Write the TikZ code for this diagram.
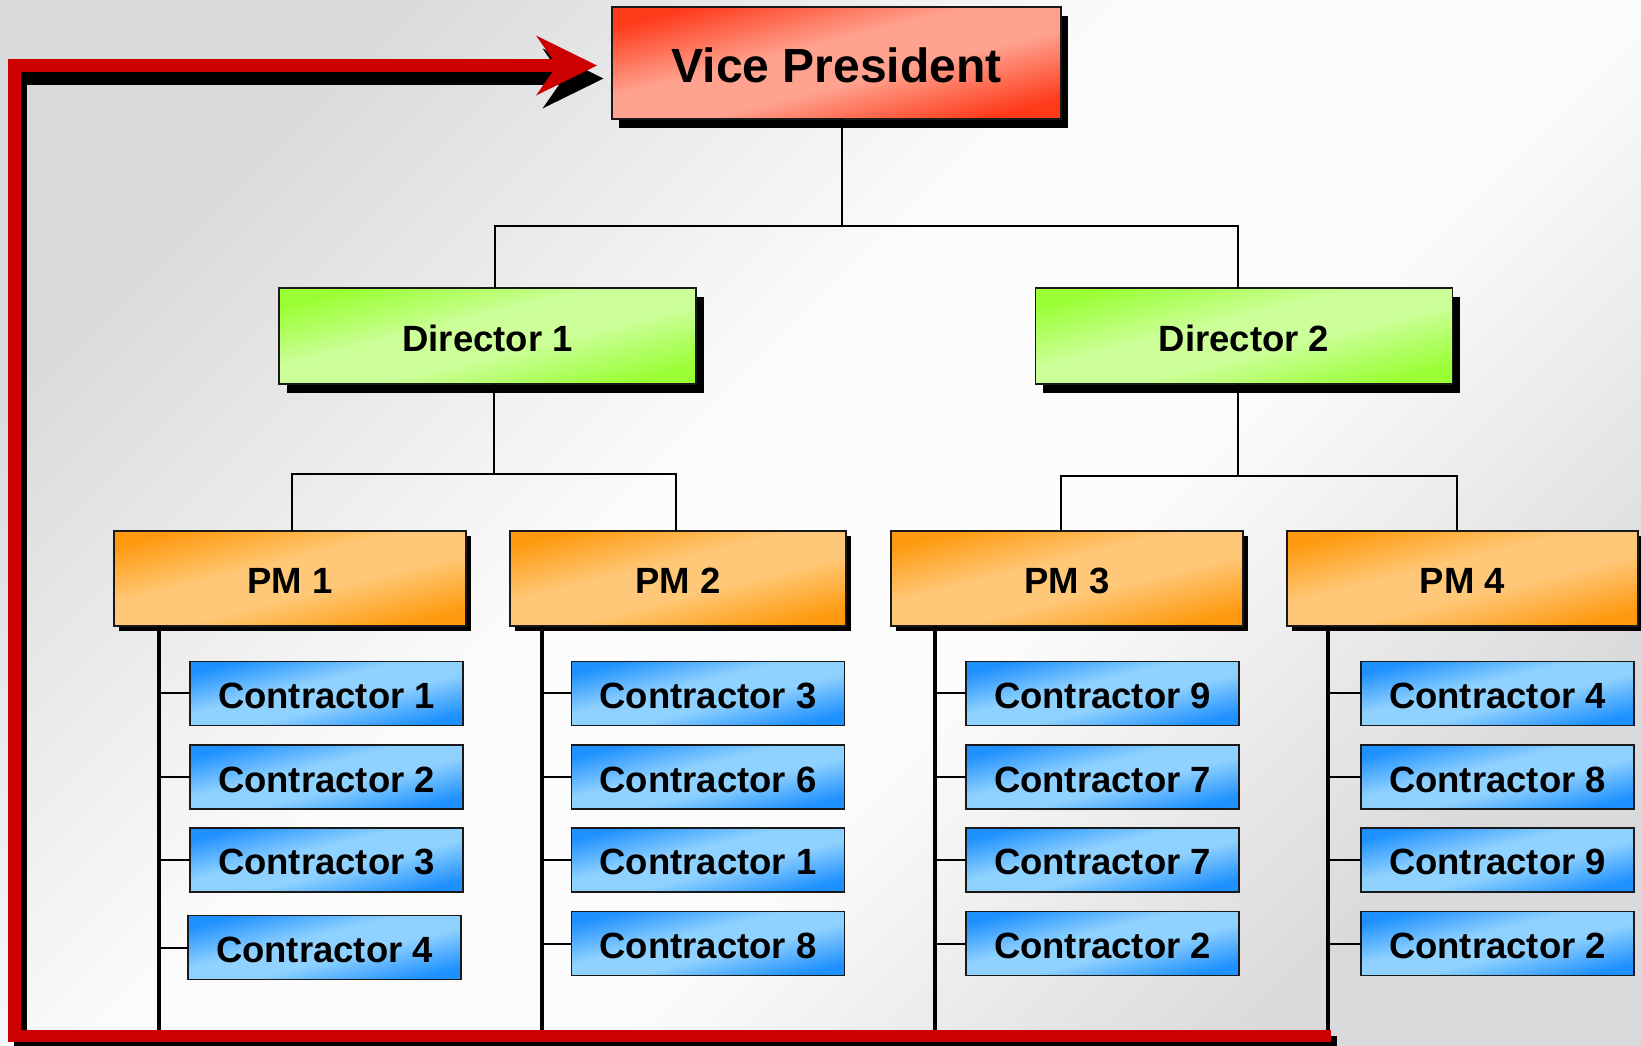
\documentclass[tikz,border=0pt]{standalone}
\usepackage{fontspec}
\setmainfont{Liberation Sans}
\usetikzlibrary{shadows,arrows.meta,calc}

% box colours: strong corner tone and light middle tone
\definecolor{vpA}{HTML}{FF3A1A}
\definecolor{vpB}{HTML}{FFA390}
\definecolor{dirA}{HTML}{99FF33}
\definecolor{dirB}{HTML}{CCFF99}
\definecolor{pmA}{HTML}{FF9A10}
\definecolor{pmB}{HTML}{FFC878}
\definecolor{conA}{HTML}{1E90FF}
\definecolor{conB}{HTML}{90D2FF}
\definecolor{bgA}{HTML}{DADADC}
\definecolor{bgB}{HTML}{FCFCFC}
\definecolor{loopred}{HTML}{CC0000}

% diagonal corner-to-corner shadings
\pgfdeclarehorizontalshading{vpshade}{100bp}{color(0bp)=(vpA); color(25bp)=(vpA); color(44bp)=(vpB); color(56bp)=(vpB); color(75bp)=(vpA); color(100bp)=(vpA)}
\pgfdeclarehorizontalshading{dirshade}{100bp}{color(0bp)=(dirA); color(25bp)=(dirA); color(44bp)=(dirB); color(56bp)=(dirB); color(75bp)=(dirA); color(100bp)=(dirA)}
\pgfdeclarehorizontalshading{pmshade}{100bp}{color(0bp)=(pmA); color(25bp)=(pmA); color(44bp)=(pmB); color(56bp)=(pmB); color(75bp)=(pmA); color(100bp)=(pmA)}
\pgfdeclarehorizontalshading{conshade}{100bp}{color(0bp)=(conA); color(25bp)=(conA); color(44bp)=(conB); color(56bp)=(conB); color(75bp)=(conA); color(100bp)=(conA)}
\pgfdeclarehorizontalshading{bgshade}{100bp}{color(0bp)=(bgA); color(25bp)=(bgA); color(45bp)=(bgB); color(58bp)=(bgB); color(75bp)=(bgA); color(100bp)=(bgA)}

\tikzset{
  orgbox/.style={draw=black!90, line width=1.5pt, inner sep=0pt, outer sep=0pt,
    shade, shading angle=-76, text=black, text height=30pt, text depth=0pt,
    font=\fontsize{36.5}{40}\selectfont\bfseries},
  vpbox/.style={orgbox, shading=vpshade, minimum width=449pt, minimum height=112pt,
    font=\fontsize{48}{52}\selectfont\bfseries, text height=39pt,
    general shadow={fill=black, shadow xshift=6.5pt, shadow yshift=-8.5pt}},
  dirbox/.style={orgbox, shading=dirshade, minimum width=417pt, minimum height=96pt,
    general shadow={fill=black, shadow xshift=7.5pt, shadow yshift=-9pt}},
  pmbox/.style={orgbox, shading=pmshade, minimum height=95pt,
    general shadow={fill=black, shadow xshift=4.5pt, shadow yshift=-4.5pt}},
  conbox/.style={orgbox, shading=conshade, minimum width=273pt, minimum height=64pt},
  thinline/.style={draw=black, line width=2pt},
  railline/.style={draw=black, line width=4pt},
  looptip/.style={-{Stealth[length=61pt,width=60pt,inset=21pt,line width=0pt]}},
  redloop/.style={draw=loopred, line width=12.4pt, line join=miter, looptip},
  loopshadow/.style={draw=black, line width=12.4pt, line join=miter, looptip},
}

\begin{document}
\begin{tikzpicture}[x=1pt,y=-1pt]
  % backdrop
  \shade[shading=bgshade, shading angle=-45] (0,0) rectangle (1641,1045);
  \useasboundingbox (0,0) rectangle (1641,1045);

  % top and middle levels
  \node[vpbox] (vp) at (836.5,63) {Vice President};
  \node[dirbox] (d1) at (487.5,336) {Director 1};
  \node[dirbox] (d2) at (1244,336) {Director 2};

  \node[pmbox, minimum width=352pt] (pm1) at (290,578.5) {PM 1};
  \node[pmbox, minimum width=336pt] (pm2) at (678,578.5) {PM 2};
  \node[pmbox, minimum width=352pt] (pm3) at (1067,578.5) {PM 3};
  \node[pmbox, minimum width=351pt] (pm4) at (1462.5,578.5) {PM 4};

  % contractors under each project manager
  \node[conbox] (c11) at (326.5,693.4) {Contractor 1};
  \node[conbox] (c12) at (326.5,777.1) {Contractor 2};
  \node[conbox] (c13) at (326.5,859.8) {Contractor 3};
  \node[conbox] (c14) at (324.5,947.5) {Contractor 4};

  \node[conbox] (c21) at (708,693.4) {Contractor 3};
  \node[conbox] (c22) at (708,777.1) {Contractor 6};
  \node[conbox] (c23) at (708,859.8) {Contractor 1};
  \node[conbox] (c24) at (708,943.5) {Contractor 8};

  \node[conbox] (c31) at (1102.5,693.4) {Contractor 9};
  \node[conbox] (c32) at (1102.5,777.1) {Contractor 7};
  \node[conbox] (c33) at (1102.5,859.8) {Contractor 7};
  \node[conbox] (c34) at (1102.5,943.5) {Contractor 2};

  \node[conbox] (c41) at (1497.5,693.4) {Contractor 4};
  \node[conbox] (c42) at (1497.5,777.1) {Contractor 8};
  \node[conbox] (c43) at (1497.5,859.8) {Contractor 9};
  \node[conbox] (c44) at (1497.5,943.5) {Contractor 2};

  % reporting lines
  \coordinate (bus0) at (842,226);
  \coordinate (bus1) at (494,474);
  \coordinate (bus2) at (1238,476);
  \draw[thinline] ([xshift=5.5pt]vp.south) -- (bus0);
  \draw[thinline] ([xshift=7.5pt]d1.north) |- (bus0) -| ([xshift=-6pt]d2.north);
  \draw[thinline] ([xshift=6.5pt]d1.south) -- (bus1);
  \draw[thinline] ([xshift=2pt]pm1.north) |- (bus1) -| ([xshift=-2pt]pm2.north);
  \draw[thinline] ([xshift=-6pt]d2.south) -- (bus2);
  \draw[thinline] ([xshift=-6pt]pm3.north) |- (bus2) -| ([xshift=-5.5pt]pm4.north);

  % rails from each project manager down to the base line
  \coordinate (base) at (0,1036);
  \coordinate (r1) at ([xshift=44.5pt]pm1.south west);
  \coordinate (r2) at ([xshift=32pt]pm2.south west);
  \coordinate (r3) at ([xshift=44pt]pm3.south west);
  \coordinate (r4) at ([xshift=41.3pt]pm4.south west);
  \foreach \r in {r1,r2,r3,r4}
    \draw[railline] (\r) -- (\r |- base);

  % stubs to contractors
  \foreach \r/\p in {r1/1,r2/2,r3/3,r4/4}
    \foreach \k in {1,2,3,4}
      \draw[thinline] (\r |- c\p\k.west) -- (c\p\k.west);

  % feedback loop back to the vice president
  \coordinate (loopstart) at ([xshift=2.4pt]r4 |- base);
  \coordinate (loopsw) at (14.5,1036);
  \coordinate (loopnw) at (14.5,65.5);
  \coordinate (tip) at ([shift={(-15pt,-2.5pt)}]vp.west);
  \draw[loopshadow] ([shift={(6.3pt,-6pt)}]loopstart) -- ([shift={(6pt,-6pt)}]loopsw)
    -- ([shift={(6pt,-13pt)}]loopnw) -- ([shift={(6.5pt,-13pt)}]tip);
  \draw[redloop] (loopstart) -- (loopsw) -- (loopnw) -- (tip);
\end{tikzpicture}
\end{document}
